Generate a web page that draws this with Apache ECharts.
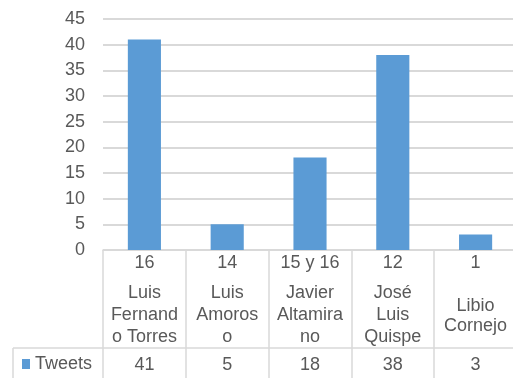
<!DOCTYPE html>
<html>
<head>
<meta charset="utf-8">
<script src="https://cdn.jsdelivr.net/npm/echarts@6/dist/echarts.min.js"></script>
<style>html,body{margin:0;padding:0;background:#fff}#c{width:513px;height:378px}</style>
</head>
<body>
<div id="c"></div>
<script>
var nums = ['16', '14', '15 y 16', '12', '1'];
var nameLines = [
  ['Luis', 'Fernand', 'o Torres'],
  ['Luis', 'Amoros', 'o'],
  ['Javier', 'Altamira', 'no'],
  ['José', 'Luis', 'Quispe'],
  ['Libio', 'Cornejo']
];
var categories = ['Luis Fernando Torres', 'Luis Amoroso', 'Javier Altamirano', 'José Luis Quispe', 'Libio Cornejo'];
var seriesName = 'Tweets';
var tweets = [41, 5, 18, 38, 3];
var yTicks = { min: 0, max: 45, interval: 5 };

var TXT = '#595959';
var LINE = '#d9d9d9';
var FONT = 'Liberation Sans, Arial, sans-serif';
var FS = 18;

var chart = echarts.init(document.getElementById('c'), null, { renderer: 'canvas' });

function labelFor(value, idx) {
  var lines = nameLines[idx];
  var three = lines.length === 3;
  var s = '{n|' + nums[idx] + '}\n';
  s += (three ? '{a3| }' : '{a2| }') + '\n';
  s += lines.map(function (l) { return (three ? '{w3|' : '{w2|') + l + '}'; }).join('\n') + '\n';
  s += (three ? '{b3| }' : '{b2| }') + '\n';
  s += '{v|' + tweets[idx] + '}';
  return s;
}

var txt = { fontFamily: FONT, fontSize: FS, color: TXT };

chart.setOption({
  animation: false,
  textStyle: { fontFamily: FONT },
  grid: { left: 103, top: 19, width: 414, height: 231, containLabel: false, outerBoundsMode: 'none' },
  legend: {
    data: [seriesName],
    left: 22, top: 355, padding: 0,
    icon: 'rect', itemWidth: 8, itemHeight: 10, itemGap: 5,
    textStyle: { fontFamily: FONT, fontSize: FS, lineHeight: 18, color: TXT }
  },
  xAxis: {
    type: 'category',
    data: categories,
    boundaryGap: true,
    axisLine: { show: true, lineStyle: { color: LINE, width: 1.5 } },
    axisTick: { show: true, length: 128, lineStyle: { color: LINE, width: 1.5 } },
    axisLabel: {
      interval: 0, margin: 2.5, verticalAlign: 'top',
      formatter: labelFor,
      rich: {
        n: Object.assign({ lineHeight: 22 }, txt),
        w3: Object.assign({ lineHeight: 22 }, txt),
        w2: Object.assign({ lineHeight: 20 }, txt),
        v: Object.assign({ lineHeight: 22 }, txt),
        a3: { lineHeight: 7.5, fontSize: 4 },
        b3: { lineHeight: 6, fontSize: 4 },
        a2: { lineHeight: 21.5, fontSize: 4 },
        b2: { lineHeight: 18, fontSize: 4 }
      }
    },
    splitLine: { show: false }
  },
  yAxis: {
    type: 'value',
    min: yTicks.min, max: yTicks.max, interval: yTicks.interval,
    axisLine: { show: false },
    axisTick: { show: false },
    axisLabel: { margin: 18, fontFamily: FONT, fontSize: FS, color: TXT },
    splitLine: { lineStyle: { color: LINE, width: 2 } }
  },
  series: [{
    name: seriesName,
    type: 'bar',
    data: tweets,
    barWidth: '40%',
    itemStyle: { color: '#5b9bd5' }
  }],
  graphic: [
    { type: 'line', silent: true, shape: { x1: 13, y1: 348, x2: 517, y2: 348 }, style: { stroke: LINE, lineWidth: 1.5 } },
    { type: 'line', silent: true, shape: { x1: 13, y1: 348, x2: 13, y2: 380 }, style: { stroke: LINE, lineWidth: 1.5 } }
  ]
});
</script>
</body>
</html>
